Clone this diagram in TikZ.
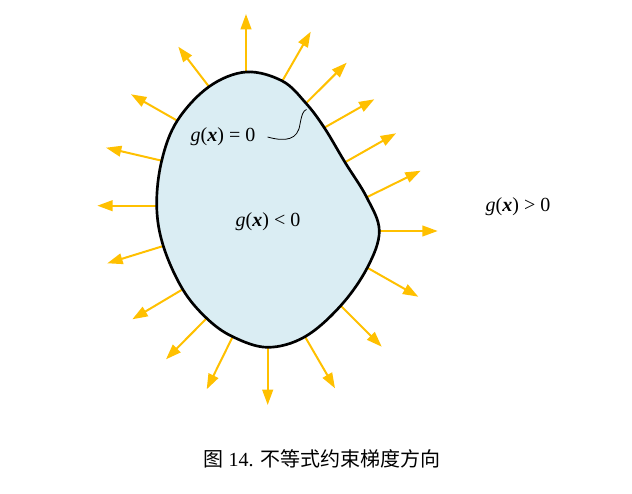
\documentclass[tikz,border=0pt]{standalone}
\usepackage{fontspec}
\setmainfont{Liberation Serif}
\newfontfamily\cjk{Noto Sans CJK SC}
\usetikzlibrary{arrows.meta}
\definecolor{gold}{HTML}{FFC000}
\definecolor{lightfill}{HTML}{DAEDF3}
\tikzset{
  grad/.style={draw=gold, line width=1.5pt, -{Triangle[length=11.5pt,width=8pt]}},
  blob/.style={draw=black, line width=2pt, fill=lightfill},
  lbl/.style={font=\fontsize{15}{18}\selectfont, inner sep=0pt},
  lead/.style={draw=black, line width=0.6pt}
}
\newcommand{\gx}{\textit{g}(\textbf{\textit{x}})}
\begin{document}
\begin{tikzpicture}[x=0.75pt,y=-0.75pt]
\useasboundingbox (0,0) rectangle (632,493);
% boundary points (start) and tips
\foreach \i/\sx/\sy/\tx/\ty in {
 1/246/72/246/14,
 2/282.3/81/310.7/31.7,
 3/306/103.3/346.7/62.7,
 4/324.3/127.7/374.3/99.3,
 5/345/162.3/396/133.3,
 6/366.7/197.3/420.7/170.7,
 7/379.3/231/437.7/231,
 8/367.3/267.7/418.3/296.7,
 9/340.7/305.7/381.7/346.7,
 10/305/336.7/335/388.3,
 11/267.7/347.3/267.7/405,
 12/232.7/336.7/206.7/389.3,
 13/206.7/318.3/166/359.3,
 14/182.7/289.3/132.3/319.3,
 15/163.3/246/107.3/263.3,
 16/156.7/205.7/97.3/205.7,
 17/161.7/160.7/106/147.7,
 18/177.3/120.7/131/94.3,
 19/209/86.7/178.3/46.7}{
  \coordinate (s\i) at (\sx,\sy);
  \coordinate (t\i) at (\tx,\ty);
  \draw[grad] (s\i) -- (t\i);
}
\draw[blob] plot[smooth cycle, tension=0.6] coordinates {
 (s1) (s2) (s3) (s4) (s5) (s6) (s7) (s8) (s9) (s10)
 (s11) (s12) (s13) (s14) (s15) (s16) (s17) (s18) (s19)};
\node[lbl] (eq) at (223,137) {\gx\ = 0};
\node[lbl] (lt) at (268,222) {\gx\ < 0};
\node[lbl] (gt) at (518,207) {\gx\ > 0};
\coordinate (touch) at (306.5,109.5);
\draw[lead] ([xshift=9pt]eq.east) .. controls +(18,5) and (298,140) .. (300,124) .. controls (302,114) and (303,111) .. (touch);
\node[font=\fontsize{15}{18}\selectfont, inner sep=0pt] (cap) at (322,459) {{\cjk 图} 14. {\cjk 不等式约束梯度方向}};
\end{tikzpicture}
\end{document}
